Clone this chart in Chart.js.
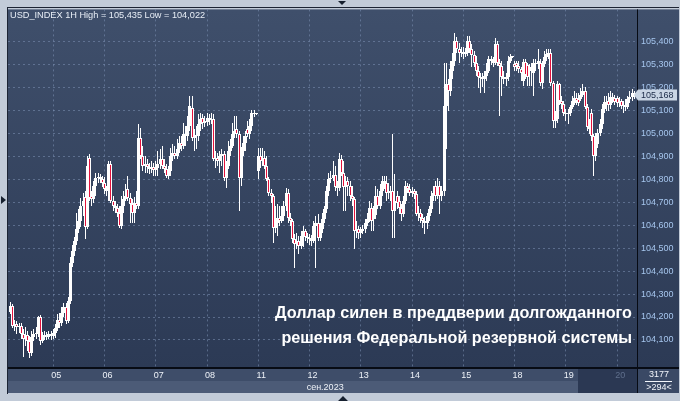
<!DOCTYPE html>
<html>
<head>
<meta charset="utf-8">
<script src="https://cdn.jsdelivr.net/npm/chart.js@4.4.0/dist/chart.umd.min.js"></script>
<style>
  html, body { margin: 0; padding: 0; background: #c2cbd8; }
  canvas { display: block; }
</style>
</head>
<body>
<canvas id="chart" width="680" height="401"></canvas>
<script>
// USD_INDEX, 1H candles, 04.09 04:00 .. 20.09 (one row per trading day)
const dayLabels = ['05', '06', '07', '08', '11', '12', '13', '14', '15', '18', '19', '20'];
const dayStarts = [20, 44, 68, 92, 116, 140, 164, 188, 212, 236, 260, 284];
const monthLabel = 'сен.2023';
const monthTick = 147.3;
const priceTicks = [104.1, 104.2, 104.3, 104.4, 104.5, 104.6, 104.7, 104.8, 104.9, 105.0, 105.1, 105.2, 105.3, 105.4];
const lastPrice = 105.168;

const opens = [
  104.222,104.248,104.161,104.170,104.157,104.161,104.126,104.104,104.122,104.096,104.043,104.113,104.126,104.130,104.200,104.096,104.113,104.122,104.113,104.126,
  104.117,104.130,104.152,104.187,104.174,104.217,104.243,104.183,104.270,104.435,104.487,104.530,104.583,104.617,104.683,104.722,104.591,104.891,104.726,104.713,104.770,104.804,104.809,104.800,
  104.783,104.757,104.748,104.865,104.704,104.683,104.674,104.652,104.596,104.683,104.713,104.757,104.717,104.691,104.652,104.696,104.683,104.978,104.900,104.857,104.865,104.852,104.843,104.852,
  104.839,104.848,104.865,104.887,104.857,104.843,104.813,104.835,104.900,104.913,104.900,104.930,104.957,104.943,104.996,104.987,105.030,105.109,104.978,104.991,104.987,105.039,105.065,105.043,
  105.048,105.065,105.057,105.061,104.887,104.891,104.878,104.900,104.909,104.804,104.857,104.922,104.943,104.996,105.017,104.996,104.804,104.922,104.957,105.017,104.996,105.030,105.087,105.083,
  104.835,104.900,104.878,104.891,104.857,104.800,104.739,104.726,104.587,104.609,104.630,104.617,104.639,104.683,104.739,104.630,104.617,104.539,104.517,104.530,104.509,104.552,104.574,104.548,
  104.543,104.539,104.530,104.596,104.609,104.543,104.583,104.626,104.670,104.748,104.800,104.804,104.817,104.765,104.761,104.887,104.826,104.765,104.791,104.770,104.726,104.713,104.574,104.583,
  104.565,104.574,104.583,104.609,104.626,104.674,104.626,104.643,104.726,104.683,104.748,104.791,104.783,104.739,104.748,104.748,104.661,104.726,104.704,104.674,104.648,104.704,104.770,104.757,
  104.739,104.748,104.735,104.648,104.652,104.630,104.617,104.609,104.639,104.670,104.726,104.770,104.726,104.770,104.726,104.748,105.117,105.213,105.183,105.270,105.313,105.400,105.365,105.348,
  105.352,105.343,105.348,105.400,105.365,105.339,105.304,105.270,105.243,105.239,105.235,105.248,105.270,105.322,105.313,105.304,105.387,105.304,105.291,105.243,105.235,105.243,105.313,105.330,
  105.300,105.304,105.291,105.278,105.226,105.309,105.296,105.270,105.283,105.261,105.304,105.300,105.304,105.217,105.300,105.330,105.343,105.348,105.217,105.052,105.061,105.213,105.139,105.126,
  105.087,105.083,105.087,105.113,105.130,105.152,105.148,105.148,105.165,105.183,105.113,105.026,105.087,104.987,104.900,104.952,105.000,105.039,105.104,105.135,105.139,105.122,105.157,105.152,
  105.152,105.130,105.139,105.117,105.122,105.113,105.148,105.157,105.174
];
const highs = [
  104.265,104.257,104.187,104.183,104.174,104.174,104.148,104.157,104.139,104.117,104.139,104.148,104.157,104.204,104.209,104.135,104.139,104.135,104.139,104.139,
  104.148,104.170,104.213,104.217,104.243,104.261,104.261,104.287,104.461,104.513,104.548,104.652,104.670,104.717,104.739,104.748,104.900,104.909,104.748,104.791,104.826,104.826,104.822,104.813,
  104.809,104.770,104.878,104.878,104.726,104.704,104.691,104.683,104.726,104.748,104.778,104.813,104.739,104.713,104.722,104.748,105.039,105.022,104.943,104.900,104.887,104.870,104.878,104.870,
  104.878,104.922,104.930,104.943,104.887,104.865,104.857,104.935,104.952,104.943,104.974,104.987,104.987,105.043,105.030,105.074,105.161,105.161,105.017,105.030,105.083,105.087,105.083,105.074,
  105.087,105.083,105.087,105.083,104.922,104.913,104.922,104.930,104.922,104.878,104.965,104.974,105.043,105.074,105.074,105.009,104.939,104.987,105.009,105.052,105.061,105.100,105.100,105.087,
  104.935,104.935,104.935,104.922,104.900,104.809,104.757,104.735,104.683,104.691,104.683,104.683,104.704,104.761,104.757,104.652,104.626,104.561,104.565,104.552,104.574,104.596,104.583,104.565,
  104.561,104.557,104.617,104.639,104.648,104.609,104.652,104.683,104.770,104.826,104.835,104.878,104.857,104.791,104.913,104.904,104.878,104.813,104.809,104.791,104.770,104.722,104.617,104.596,
  104.591,104.600,104.626,104.652,104.704,104.696,104.683,104.770,104.757,104.778,104.813,104.813,104.813,104.783,104.770,104.996,104.822,104.748,104.726,104.691,104.726,104.791,104.783,104.778,
  104.765,104.757,104.748,104.683,104.670,104.648,104.635,104.652,104.683,104.748,104.770,104.791,104.804,104.791,104.770,105.304,105.304,105.235,105.313,105.348,105.435,105.417,105.391,105.374,
  105.374,105.370,105.422,105.422,105.387,105.357,105.335,105.291,105.261,105.261,105.270,105.304,105.335,105.335,105.330,105.413,105.400,105.322,105.313,105.270,105.261,105.335,105.343,105.335,
  105.313,105.313,105.313,105.287,105.322,105.322,105.304,105.300,105.304,105.322,105.322,105.365,105.322,105.313,105.357,105.365,105.365,105.365,105.226,105.096,105.226,105.217,105.161,105.139,
  105.104,105.104,105.122,105.161,105.183,105.174,105.174,105.196,105.213,105.200,105.126,105.061,105.104,104.996,105.000,105.017,105.061,105.126,105.161,105.161,105.174,105.183,105.174,105.165,
  105.161,105.157,105.148,105.139,105.148,105.161,105.183,105.191,105.183
];
const lows = [
  104.213,104.152,104.139,104.126,104.130,104.104,104.026,104.074,104.052,104.022,104.030,104.096,104.104,104.113,104.078,104.087,104.100,104.100,104.104,104.100,
  104.104,104.109,104.139,104.152,104.161,104.200,104.170,104.174,104.257,104.417,104.465,104.513,104.565,104.591,104.639,104.539,104.583,104.704,104.683,104.696,104.726,104.783,104.783,104.765,
  104.735,104.726,104.704,104.696,104.661,104.652,104.635,104.587,104.583,104.652,104.704,104.704,104.609,104.609,104.609,104.670,104.670,104.887,104.835,104.826,104.826,104.822,104.826,104.813,
  104.813,104.813,104.843,104.843,104.826,104.804,104.800,104.813,104.878,104.887,104.887,104.913,104.922,104.930,104.943,104.965,105.009,104.965,104.922,104.930,104.965,105.009,105.017,105.026,
  105.030,105.035,105.039,104.878,104.848,104.857,104.826,104.857,104.791,104.761,104.843,104.900,104.935,104.978,104.978,104.661,104.770,104.900,104.922,104.983,104.974,105.009,105.070,105.078,
  104.800,104.848,104.857,104.843,104.791,104.726,104.696,104.522,104.565,104.552,104.596,104.609,104.617,104.661,104.609,104.596,104.522,104.413,104.496,104.474,104.496,104.504,104.530,104.522,
  104.513,104.509,104.522,104.413,104.530,104.530,104.565,104.609,104.652,104.726,104.783,104.791,104.748,104.726,104.748,104.813,104.661,104.661,104.726,104.704,104.683,104.496,104.543,104.539,
  104.543,104.561,104.565,104.596,104.613,104.574,104.574,104.626,104.670,104.670,104.726,104.757,104.704,104.713,104.704,104.543,104.543,104.670,104.648,104.617,104.635,104.691,104.739,104.726,
  104.722,104.713,104.639,104.617,104.609,104.587,104.561,104.583,104.617,104.652,104.704,104.704,104.713,104.648,104.704,104.726,104.930,105.096,105.161,105.235,105.291,105.348,105.304,105.330,
  105.322,105.330,105.335,105.348,105.287,105.287,105.248,105.196,105.174,105.200,105.174,105.226,105.261,105.296,105.287,105.296,105.291,105.074,105.161,105.213,105.204,105.226,105.304,105.326,
  105.270,105.270,105.261,105.226,105.204,105.235,105.204,105.204,105.204,105.161,105.270,105.278,105.204,105.191,105.287,105.313,105.322,105.204,105.022,105.022,105.043,105.122,105.104,105.074,
  105.052,105.039,105.074,105.104,105.122,105.122,105.117,105.139,105.157,105.104,105.009,104.996,104.965,104.813,104.878,104.935,104.987,105.017,105.087,105.096,105.096,105.104,105.130,105.122,
  105.113,105.113,105.104,105.087,105.096,105.104,105.130,105.139,105.148
];
const closes = [
  104.248,104.161,104.170,104.157,104.161,104.126,104.104,104.122,104.096,104.043,104.113,104.126,104.130,104.200,104.096,104.113,104.122,104.113,104.126,104.117,
  104.130,104.152,104.187,104.174,104.217,104.243,104.183,104.270,104.435,104.487,104.530,104.583,104.617,104.683,104.704,104.591,104.857,104.717,104.713,104.770,104.804,104.809,104.800,104.783,
  104.757,104.748,104.865,104.704,104.683,104.674,104.652,104.596,104.683,104.713,104.726,104.717,104.691,104.652,104.696,104.683,104.978,104.900,104.857,104.865,104.852,104.843,104.852,104.839,
  104.848,104.865,104.887,104.857,104.843,104.813,104.835,104.900,104.913,104.900,104.930,104.957,104.943,104.996,104.987,105.030,105.117,104.978,104.991,104.987,105.039,105.061,105.043,105.052,
  105.065,105.057,105.061,104.887,104.891,104.878,104.900,104.909,104.804,104.857,104.922,104.943,104.996,105.009,104.996,104.804,104.922,104.957,104.987,104.996,105.030,105.087,105.083,105.083,
  104.900,104.878,104.891,104.857,104.800,104.739,104.726,104.587,104.609,104.630,104.617,104.639,104.683,104.739,104.630,104.617,104.539,104.517,104.530,104.509,104.552,104.574,104.548,104.543,
  104.539,104.530,104.596,104.609,104.543,104.583,104.626,104.670,104.748,104.800,104.804,104.817,104.765,104.761,104.887,104.826,104.765,104.791,104.770,104.726,104.713,104.574,104.583,104.565,
  104.574,104.583,104.609,104.626,104.674,104.617,104.643,104.726,104.683,104.748,104.791,104.783,104.739,104.748,104.739,104.661,104.704,104.696,104.674,104.648,104.704,104.770,104.757,104.739,
  104.748,104.735,104.648,104.652,104.630,104.617,104.609,104.639,104.670,104.726,104.739,104.726,104.770,104.726,104.748,105.117,105.213,105.183,105.278,105.313,105.400,105.365,105.348,105.352,
  105.343,105.348,105.400,105.365,105.339,105.304,105.270,105.243,105.239,105.235,105.248,105.270,105.322,105.313,105.304,105.387,105.304,105.291,105.243,105.235,105.243,105.313,105.330,105.330,
  105.287,105.291,105.278,105.261,105.309,105.252,105.243,105.283,105.287,105.304,105.300,105.313,105.217,105.300,105.330,105.343,105.348,105.217,105.052,105.061,105.213,105.139,105.126,105.087,
  105.083,105.087,105.113,105.139,105.152,105.139,105.130,105.165,105.183,105.113,105.026,105.017,104.987,104.900,104.987,105.000,105.039,105.104,105.135,105.126,105.122,105.157,105.148,105.135,
  105.130,105.139,105.117,105.122,105.113,105.148,105.157,105.174,105.168
];

const upColor = '#ffffff';
const downColor = '#e3123c';
const gridColor = 'rgba(125, 145, 180, 0.55)';

const bodies = closes.map((c, i) => ({ x: i, y: [opens[i], c] }));
const wicks = highs.map((h, i) => ({ x: i, y: [lows[i], h] }));
const bodyColors = closes.map((c, i) => c < opens[i] ? downColor : upColor);

function fmt(v) {
    return v.toFixed(3).replace('.', ',');
}

// put candles on whole pixels so they stay crisp
const snap = {
    id: 'snap',
    beforeDatasetsDraw(chart) {
        chart.data.datasets.forEach((ds, di) => {
            chart.getDatasetMeta(di).data.forEach(el => {
                el.x = Math.floor(el.x) + 0.5;
                let top = Math.round(Math.min(el.y, el.base));
                let bot = Math.round(Math.max(el.y, el.base));
                if (bot - top < 1) bot = top + 1;
                el.y = top;
                el.base = bot;
            });
        });
    }
};

// frame, panels and texts round the plot
const frame = {
    id: 'frame',
    beforeDraw(chart) {
        const ctx = chart.ctx;
        const a = chart.chartArea;
        ctx.save();
        ctx.fillStyle = '#c2cbd8';
        ctx.fillRect(0, 0, 680, 401);

        const g = ctx.createLinearGradient(0, a.top, 0, a.bottom);
        g.addColorStop(0, '#3f4f6b');
        g.addColorStop(1, '#2c3a55');
        ctx.fillStyle = g;
        ctx.fillRect(a.left, a.top, 679 - a.left, a.bottom - a.top);

        ctx.fillStyle = '#3e4d69';
        ctx.fillRect(a.left, a.bottom, a.right - a.left, 13);
        ctx.fillStyle = '#4c5b77';
        ctx.fillRect(a.left, a.bottom + 13, a.right - a.left, 12);
        ctx.fillStyle = '#2b3853';
        ctx.fillRect(578, a.bottom, a.right - 578, 25);
        ctx.fillStyle = '#3a4965';
        ctx.fillRect(a.right, a.bottom, 679 - a.right, 25);

        ctx.strokeStyle = '#1c2434';
        ctx.lineWidth = 1;
        ctx.beginPath();
        ctx.moveTo(7.5, 7);
        ctx.lineTo(7.5, a.bottom + 26);
        ctx.moveTo(7, 7.5);
        ctx.lineTo(679, 7.5);
        ctx.stroke();
        ctx.restore();
    },
    afterDraw(chart) {
        const ctx = chart.ctx;
        const a = chart.chartArea;
        const y = chart.scales.y;
        ctx.save();

        // separators
        ctx.fillStyle = '#070b14';
        ctx.fillRect(a.left, a.bottom - 1, 679 - a.left, 2);
        ctx.fillRect(a.right, a.top, 1, a.bottom + 25 - a.top);

        // last price tag
        const py = Math.round(y.getPixelForValue(lastPrice));
        ctx.fillStyle = '#c9d5e4';
        ctx.beginPath();
        ctx.moveTo(a.right - 3, py);
        ctx.lineTo(a.right + 1, py - 5.5);
        ctx.lineTo(677, py - 5.5);
        ctx.lineTo(677, py + 5.5);
        ctx.lineTo(a.right + 1, py + 5.5);
        ctx.closePath();
        ctx.fill();
        ctx.fillStyle = '#1a2946';
        ctx.font = '9px "Liberation Sans", Arial, sans-serif';
        ctx.textBaseline = 'middle';
        ctx.textAlign = 'left';
        ctx.fillText(fmt(lastPrice), a.right + 4, py + 0.5);

        // title
        ctx.fillStyle = '#e8eef6';
        ctx.font = '9.2px "Liberation Sans", Arial, sans-serif';
        ctx.fillText('USD_INDEX 1H High = 105,435 Low = 104,022', 10, 15);

        // counter box
        ctx.font = '9px "Liberation Sans", Arial, sans-serif';
        ctx.textAlign = 'center';
        ctx.fillStyle = '#f2f5fa';
        ctx.fillText('3177', 659, a.bottom + 6.5);
        ctx.fillText('>294<', 659, a.bottom + 19.5);
        ctx.fillRect(645, a.bottom + 13, 27, 1);

        // headline
        ctx.font = 'bold 16.2px "Liberation Sans", Arial, sans-serif';
        ctx.textAlign = 'right';
        ctx.textBaseline = 'alphabetic';
        ctx.fillStyle = '#ffffff';
        ctx.fillText('Доллар силен в преддверии долгожданного', 632, 318);
        ctx.fillText('решения Федеральной резервной системы', 632, 343);

        // scroll markers
        ctx.fillStyle = '#16202f';
        ctx.beginPath();
        ctx.moveTo(1, 196); ctx.lineTo(6, 200); ctx.lineTo(1, 204);
        ctx.moveTo(338, 1); ctx.lineTo(346, 1); ctx.lineTo(342, 5);
        ctx.moveTo(338, 401); ctx.lineTo(348, 401); ctx.lineTo(343, 396);
        ctx.fill();
        ctx.restore();
    }
};

Chart.defaults.font.family = '"Liberation Sans", Arial, sans-serif';

new Chart(document.getElementById('chart'), {
    type: 'bar',
    data: {
        datasets: [
            {
                data: bodies,
                backgroundColor: bodyColors,
                borderColor: '#ffffff',
                borderWidth: 1,
                borderSkipped: false,
                grouped: false,
                categoryPercentage: 1,
                barPercentage: 2,
                maxBarThickness: 3,
                minBarLength: 1,
                inflateAmount: 0
            },
            {
                data: wicks,
                backgroundColor: '#ffffff',
                borderWidth: 0,
                grouped: false,
                categoryPercentage: 1,
                barPercentage: 2,
                maxBarThickness: 1,
                inflateAmount: 0
            }
        ]
    },
    options: {
        responsive: false,
        animation: false,
        layout: { padding: { left: 8, top: 8, right: 0, bottom: 8 } },
        plugins: {
            legend: { display: false },
            tooltip: { enabled: false }
        },
        scales: {
            x: {
                type: 'linear',
                min: -1.17,
                max: 293.3,
                offset: false,
                grid: { offset: false, color: gridColor, drawTicks: false },
                border: { display: false, dash: [2, 3] },
                afterBuildTicks: s => { s.ticks = dayStarts.map(v => ({ value: v })); },
                afterFit: s => { s.height = 13; },
                ticks: {
                    autoSkip: false,
                    maxRotation: 0,
                    padding: 2,
                    labelOffset: 3,
                    font: { size: 9 },
                    color: c => c.index === dayLabels.length - 1 ? '#5f6f8c' : '#eef2f8',
                    callback: (v, i) => dayLabels[i]
                }
            },
            month: {
                type: 'linear',
                axis: 'x',
                position: 'bottom',
                weight: 1,
                min: -1.17,
                max: 293.3,
                offset: false,
                grid: { display: false, drawTicks: false },
                border: { display: false },
                afterBuildTicks: s => { s.ticks = [{ value: monthTick }]; },
                afterFit: s => { s.height = 12; },
                ticks: {
                    autoSkip: false,
                    maxRotation: 0,
                    padding: 1,
                    font: { size: 9 },
                    color: '#eef2f8',
                    callback: () => monthLabel
                }
            },
            y: {
                position: 'right',
                min: 103.978,
                max: 105.539,
                stacked: false,
                grid: { color: gridColor, drawTicks: false },
                border: { display: false, dash: [2, 3] },
                afterBuildTicks: s => { s.ticks = priceTicks.map(v => ({ value: v })); },
                afterFit: s => { s.width = 43; },
                ticks: {
                    padding: 4,
                    font: { size: 9 },
                    color: '#a6c6ee',
                    callback: v => fmt(v)
                }
            }
        }
    },
    plugins: [snap, frame]
});
</script>
</body>
</html>
